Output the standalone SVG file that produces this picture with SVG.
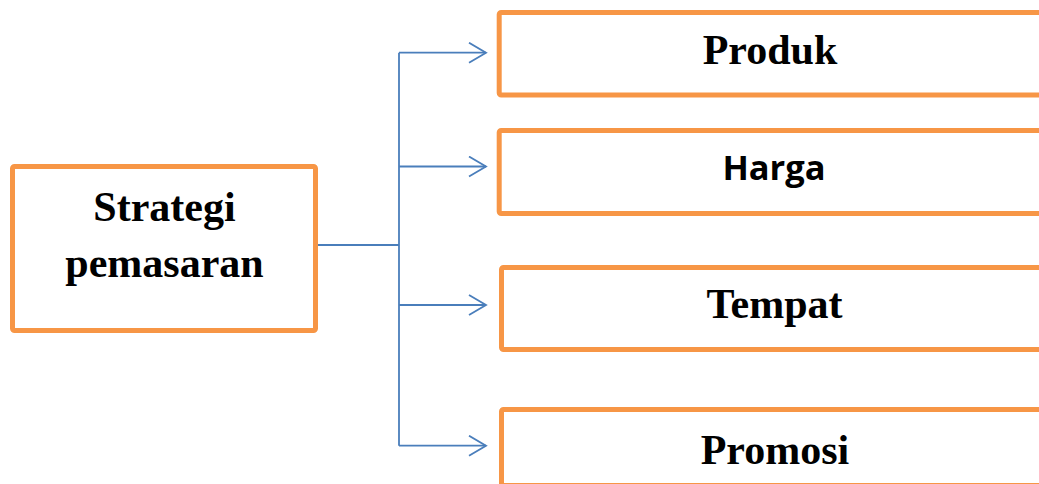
<svg xmlns="http://www.w3.org/2000/svg" width="1039" height="484" viewBox="0 0 1039 484">
  <style>
    .box { fill: #ffffff; stroke: #f79646; stroke-width: 5; }
    .serif { font-family: "Liberation Serif", "Times New Roman", serif; font-weight: bold; font-size: 42px; fill: #000; text-anchor: middle; }
    .sans { font-family: "Open Sans", "Liberation Sans", sans-serif; font-weight: bold; font-size: 34.5px; fill: #000; text-anchor: middle; }
    .conn { fill: none; stroke: #4a7ebb; stroke-width: 1.8; }
  </style>
  <defs>
    <marker id="arr" markerUnits="userSpaceOnUse" markerWidth="24" markerHeight="24" refX="18" refY="11" orient="auto">
      <path d="M1,1 L18,11 L1,21" fill="none" stroke="#4a7ebb" stroke-width="1.8"/>
    </marker>
  </defs>
  <rect width="1039" height="484" fill="#ffffff"/>
  <g id="connectors">
    <path class="conn" d="M318,245 H399"/>
    <path class="conn" d="M399,52.7 V445.7"/>
    <path class="conn" d="M399,52.7 H486" marker-end="url(#arr)"/>
    <path class="conn" d="M399,166.5 H486" marker-end="url(#arr)"/>
    <path class="conn" d="M399,305 H486" marker-end="url(#arr)"/>
    <path class="conn" d="M399,445.7 H486" marker-end="url(#arr)"/>
  </g>
  <g id="strategi">
    <rect class="box" x="12.5" y="166.5" width="303" height="164" rx="2"/>
    <text class="serif" x="164.5" y="220.7">Strategi</text>
    <text class="serif" x="164.5" y="276.7">pemasaran</text>
  </g>
  <g id="produk">
    <rect class="box" x="499.2" y="12.5" width="560" height="82.5" rx="2"/>
    <text class="serif" x="770" y="64">Produk</text>
  </g>
  <g id="harga">
    <rect class="box" x="499.2" y="130.5" width="560" height="83" rx="2"/>
    <text class="sans" x="774" y="180">Harga</text>
  </g>
  <g id="tempat">
    <rect class="box" x="501.5" y="267.5" width="560" height="82" rx="2"/>
    <text class="serif" x="774.5" y="318.3">Tempat</text>
  </g>
  <g id="promosi">
    <rect class="box" x="501.5" y="409.5" width="560" height="76" rx="2"/>
    <text class="serif" x="775" y="464">Promosi</text>
  </g>
</svg>
